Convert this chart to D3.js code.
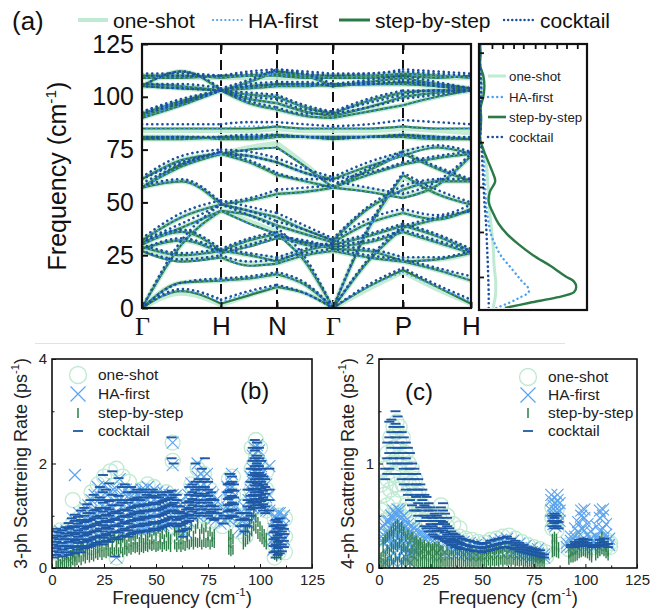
<!DOCTYPE html>
<html><head><meta charset="utf-8">
<script src="https://cdn.jsdelivr.net/npm/d3@7"></script>
<style>body{margin:0;background:#fff}svg{display:block}</style>
</head><body><svg id="c" width="669" height="610"></svg>
<script>
// ---------------- DATA ----------------
const methods = ["one-shot","HA-first","step-by-step","cocktail"];
const kLabels = ["Γ","H","N","Γ","P","H"];
const kTicks = [0, 79, 135, 191, 261, 329];               // path distance of high-symmetry points
const kSamples = [0, 39.5, 79, 107, 135, 163, 191, 226, 261, 295, 329];
const freqTicks = [0, 25, 50, 75, 100, 125];

// bands: frequency (cm-1) at kSamples
const bandsStep = [
[0,8,2,6,10,7,0,10,18,10,2],[0,12,13,14,16,11,0,22,38,42,46],[0,30,46,40,35,22,0,37,63,54,49],
[27,22,24,20,21,25,27,24,22,18,13],[28,32,26,29,33,31,28,27,22,23,26],[29,25,27,32,35,30,29,31,36,31,26],
[30,36,27,25,22,27,30,34,39,34,27],[31,38,46,44,39,35,31,40,45,42,47],[32,43,49,46,43,37,32,47,56,60,60],
[57,67,73,75,76,67,57,55,52,58,72],[57,68,73,69,63,60,57,63,68,71,73],[57,60,49,51,54,55,57,65,73,66,60],
[61,70,73,72,69,64,61,67,72,76,73],[80,80,81,81,82,81,80,81,82,81,80],[81,81,80,80,81,81,81,81,81,80,80],
[85,85,85,85,86,85,85,85,86,85,85],[90,96,103,97,94,91,90,93,96,100,103],[91,97,103,99,97,93,91,95,100,102,103],
[92,98,103,101,100,95,92,98,102,103,103],[105,112,103,107,112,110,105,107,109,106,103],[105,104,103,105,106,106,105,106,106,105,103],
[106,105,103,104,105,105,106,106,107,106,104],[109,109,110,110,110,109,109,109,110,109,110],[110,110,109,110,111,110,110,110,111,110,109]
];
const bandsHA = [
[0,8,3,7,10,7,0,10,17,10,3],[0,12,13,14,16,11,0,22,38,42,46],[0,30,46,40,35,22,0,37,63,54,49],
[27,22,24,20,21,25,27,24,22,18,13],[28,32,26,29,33,31,28,27,22,23,26],[29,25,27,32,35,30,29,31,36,31,26],
[30,36,27,25,22,27,30,34,39,34,27],[31,38,46,44,39,35,31,40,45,42,47],[32,43,49,46,43,37,32,47,56,60,60],
[57,67,73,75,76,67,57,55,52,58,72],[57,68,73,69,63,60,57,63,68,71,73],[57,60,49,51,54,55,57,65,73,66,60],
[61,70,73,72,69,64,61,67,72,76,73],[80,80,81,81,82,81,80,81,82,81,80],[81,81,80,80,81,81,81,81,81,80,80],
[85,85,85,86,86,85,85,85,86,85,85],[90,96,103,97,94,91,90,93,96,100,103],[91,97,103,99,97,93,91,95,100,102,103],
[92,98,103,101,100,95,92,98,102,103,103],[105,112,103,107,112,110,105,107,109,106,103],[105,104,103,105,106,106,105,106,106,105,103],
[106,105,103,104,105,105,106,106,107,106,104],[109,109,110,110,110,109,109,109,110,109,110],[110,110,109,110,111,110,110,110,111,110,109]
];
const bandsOneShot = [
[0,7,1.5,6,10,7,0,9,17,9,2],[0,12,13,14,16,11,0,22,38,42,46],[0,30,46,41,36,22,0,37,62,54,49],
[27,23,24,21,21,25,27,24,22,18,13],[28,32,26,30,34,31,28,27,23,23,26],[29,25,27,32,35,30,29,31,36,31,26],
[30,36,27,25,23,27,30,34,39,34,27],[31,38,46,44,39,35,31,40,45,42,47],[32,43,49,46,43,37,32,47,56,60,60],
[57,67,73,76,78,68,57,56,53,58,72],[57,68,73,69,63,60,57,63,68,71,73],[57,60,49,51,54,55,57,65,74,66,60],
[61,70,73,72,69,64,61,67,74,76,73],[80,80,81,81,82,81,80,81,82,81,80],[81,81,80,80,81,81,81,81,81,80,80],
[84,84,84,84,85,84,84,84,85,84,83],[90,96,103,97,94,91,90,93,96,100,103],[91,97,103,99,97,93,91,95,100,102,103],
[92,98,103,101,100,95,92,98,102,103,103],[105,112,103,107,112,110,105,107,109,106,103],[105,104,103,105,106,106,105,106,106,105,103],
[106,105,103,104,105,105,106,106,107,106,104],[109,109,109,109,109,109,109,109,109,109,109],[110,110,109,110,111,110,110,110,111,110,109]
];
const bandsCocktail = [
[0,9,4,8,11,7,0,11,19,11,4],[0,12,14,15,17,12,0,23,39,43,46],[0,32,49,44,38,24,0,38,64,56,50],
[27,23,25,22,23,26,28,25,23,19,15],[28,33,27,30,34,32,29,28,24,24,27],[30,26,28,33,36,31,30,32,37,32,27],
[31,37,28,26,24,28,31,35,40,35,28],[32,40,49,46,41,37,32,42,47,44,49],[33,45,51,48,45,39,33,48,58,61,61],
[59,68,74,72,69,64,60,57,54,60,73],[61,69,74,70,64,61,61,64,69,72,74],[58,61,50,52,56,57,58,66,74,67,61],
[62,72,75,74,71,66,62,69,74,77,74],[80,81,81,82,82,81,80,81,82,81,80],[81,81,81,81,82,81,81,81,82,81,81],
[87,87,87,88,88,87,86,87,89,88,87],[92,97,103,98,95,92,92,95,99,101,103],[93,98,103,100,99,94,93,97,101,103,103],
[93,99,103,102,101,96,93,99,103,103,103],[105,112,104,108,113,111,106,108,110,107,104],[105,104,103,106,107,107,105,107,107,105,103],
[106,106,104,105,106,106,106,106,108,106,104],[111,111,110,112,113,112,111,111,113,112,111],[110,110,110,111,112,111,110,111,112,111,110]
];

// phonon DOS (arb. units) vs frequency
const dosFreq     = [0,2.5,5,7.5,10,12.5,15,20,25,30,35,40,45,50,55,60,65,70,75,80,85,90,95,100,105,110,115,120,125];
const dosOneShot  = [0.13,0.14,0.15,0.155,0.155,0.155,0.15,0.14,0.135,0.13,0.12,0.11,0.1,0.095,0.09,0.08,0.075,0.06,0.04,0.01,0.015,0.01,0.015,0.02,0.025,0.02,0.01,0.005,0.005];
const dosHA       = [0.16,0.28,0.38,0.46,0.45,0.4,0.36,0.28,0.2,0.15,0.11,0.09,0.075,0.065,0.06,0.055,0.05,0.045,0.035,0.01,0.015,0.01,0.015,0.02,0.025,0.02,0.01,0.005,0.005];
const dosStep     = [0.24,0.47,0.72,0.88,0.9,0.88,0.8,0.66,0.5,0.37,0.26,0.18,0.13,0.09,0.1,0.15,0.12,0.08,0.04,0.01,0.015,0.02,0.015,0.04,0.05,0.04,0.01,0.015,0.01];
const dosCocktail = [0.09,0.09,0.09,0.09,0.088,0.087,0.085,0.082,0.078,0.074,0.07,0.065,0.058,0.05,0.045,0.04,0.035,0.03,0.025,0.01,0.015,0.01,0.015,0.02,0.02,0.015,0.01,0.005,0.005];
const dosSideTicks = [14.7, 36, 57.3, 78.5, 99.7, 120.9];
const dosTopTicks = [0.12,0.22,0.32,0.41,0.52,0.61,0.72,0.81,0.91];

// 3-phonon scattering rates (ps-1): [frequency, [rates at that frequency]]
const ph3OneShot = [
[1,[0.3,0.5,0.65]],[4,[0.4,0.6,0.72]],[7,[0.3,0.55,0.7]],[10,[0.35,0.6,0.85,1.3]],[13,[0.4,0.7,0.95]],
[16,[0.5,0.8,1.1]],[19,[0.4,0.75,1.2,1.45]],[22,[0.5,0.9,1.3,1.6]],[25,[0.6,1.0,1.4,1.75]],[28,[0.5,0.9,1.3,1.85]],
[31,[0.2,0.7,1.1,1.5,1.9]],[34,[0.6,1.0,1.4,1.75]],[37,[0.5,0.9,1.3,1.65]],[40,[0.6,1.0,1.4]],[43,[0.5,0.9,1.25,1.5]],
[46,[0.6,1.0,1.6]],[49,[0.5,0.9,1.3,1.55]],[52,[0.6,1.0,1.3]],[55,[0.7,1.1,1.45]],[58,[0.8,1.2,2.05,2.4]],
[61,[0.6,0.9,1.3]],[64,[0.5,0.8,1.1]],[67,[0.9,1.3,1.6]],[70,[0.9,1.3,1.9]],[73,[1.0,1.4,1.8]],
[76,[0.9,1.2,1.5]],[79,[0.9,1.1]],[82,[0.8,1.0]],[85,[1.0,1.3,1.7]],[87,[0.95,1.4,1.75]],
[90,[0.7,1.0]],[93,[0.6,0.9,1.2]],[96,[1.1,1.5,1.9,2.3]],[98,[1.3,1.7,2.1,2.45]],[100,[1.2,1.6,2.0,2.3]],
[103,[1.1,1.5,1.85]],[107,[0.2,0.45,0.7,0.95]],[109,[0.3,0.55,0.8,1.0]],[112,[0.3,0.6,0.95]]
];
const ph3HA = [
[1,[0.25,0.4,0.55]],[2.5,[0.3,0.48,0.65]],[4,[0.35,0.52,0.7]],[5.5,[0.28,0.45,0.6]],[7,[0.2,0.38,0.55,0.72]],
[8.5,[0.3,0.5,0.68]],[10,[0.35,0.55,0.75,0.95]],[11,[1.78]],[11.5,[0.4,0.6,0.8]],[13,[0.42,0.62,0.85,1.05]],
[14.5,[0.45,0.65,0.9]],[16,[0.5,0.7,0.92,1.15]],[17.5,[0.48,0.68,0.9,1.2]],[19,[0.52,0.75,0.98,1.3]],
[20.5,[0.55,0.8,1.05,1.4]],[22,[0.6,0.85,1.1,1.55]],[23.5,[0.58,0.82,1.08,1.35]],[25,[0.62,0.88,1.15,1.6]],
[26.5,[0.6,0.85,1.12,1.4]],[28,[0.7,0.95,1.2,1.45]],[29.5,[0.65,0.9,1.15,1.5]],[31,[0.2,0.7,0.95,1.25,1.5]],
[32.5,[0.75,1.0,1.3,1.7]],[34,[0.7,0.95,1.2,1.45]],[35.5,[0.72,0.98,1.25,1.5]],[37,[0.7,0.95,1.2,1.4]],
[38.5,[0.75,1.0,1.25,1.5]],[40,[0.72,0.98,1.22,1.45]],[41.5,[0.75,1.0,1.25,1.4]],[43,[0.78,1.02,1.28,1.5]],
[44.5,[0.75,1.0,1.25,1.5]],[46,[0.78,1.05,1.3,1.55]],[47.5,[0.75,1.0,1.25,1.4]],[49,[0.8,1.05,1.3,1.5]],
[50.5,[0.78,1.02,1.25,1.45]],[52,[0.8,1.05,1.3]],[53.5,[0.82,1.08,1.3,1.45]],[55,[0.85,1.1,1.35]],
[56.5,[0.85,1.12,1.4]],[58,[0.9,1.15,1.4,1.97,2.4]],[59.5,[0.88,1.12,1.38]],[61,[0.75,1.0,1.25]],
[62.5,[0.65,0.88,1.05]],[64,[0.7,0.92,1.12]],[65.5,[0.9,1.15,1.4]],[67,[1.0,1.25,1.5,1.62]],[68.5,[1.05,1.3,1.55]],
[70,[1.0,1.25,1.5,1.75,2.0]],[71.5,[1.05,1.3,1.55,1.8]],[73,[1.1,1.35,1.6,1.75]],[74.5,[1.05,1.3,1.55,1.8]],
[76,[1.0,1.25,1.45]],[77.5,[0.95,1.18,1.4]],[79,[0.92,1.1,1.3]],[81,[0.85,1.0]],[83,[0.9,1.1]],
[84.5,[0.95,1.15,1.35,1.55]],[85.5,[1.0,1.25,1.5,1.7]],[86.5,[1.05,1.3,1.55,1.8]],[88,[1.0,1.2,1.4]],
[90,[0.75,0.95]],[91.5,[0.7,0.92]],[93,[0.75,0.95,1.15]],[94.5,[0.85,1.05,1.3]],[95.5,[1.0,1.25,1.5,1.75]],
[96.5,[1.15,1.4,1.65,1.9,2.15]],[97.5,[1.25,1.5,1.75,2.0,2.3]],[98.5,[1.3,1.55,1.8,2.05,2.35]],[99.5,[1.25,1.5,1.75,2.0,2.25]],
[100.5,[1.2,1.45,1.7,1.95]],[101.5,[1.15,1.4,1.65,1.85]],[103,[1.1,1.35,1.6]],[104.5,[1.1,1.4,1.95]],
[106.5,[0.35,0.55,0.75]],[107.5,[0.4,0.6,0.8,0.95]],[108.5,[0.45,0.65,0.85,1.05]],[109.5,[0.5,0.7,0.9,1.05]],
[110.5,[0.5,0.72,0.92]],[111.5,[0.55,0.8,1.0]]
];
const ph3Step = [
[2,[0.05]],[3,[0.05,0.12]],[4,[0.08]],[5,[0.06,0.15]],[6,[0.1]],[7,[0.08,0.2]],[8,[0.12]],[9,[0.1,0.25]],
[10,[0.15,0.3]],[11,[0.12,0.22]],[12,[0.15,0.35]],[13,[0.2,0.3]],[14,[0.15,0.38]],[15,[0.22,0.4]],[16,[0.18,0.3]],
[17,[0.25,0.42]],[18,[0.2,0.35]],[19,[0.25,0.45]],[20,[0.22,0.4]],[21,[0.28,0.48]],[22,[0.25,0.38]],[23,[0.3,0.5]],
[24,[0.25,0.42]],[25,[0.3,0.55]],[26,[0.28,0.45]],[27,[0.32,0.5]],[28,[0.3,0.58]],[29,[0.35,0.45]],[30,[0.3,0.6]],
[31,[0.35,0.5]],[32,[0.3,0.55]],[33,[0.38,0.48]],[34,[0.3,0.58]],[35,[0.35,0.5]],[36,[0.32,0.45]],[37,[0.38,0.6]],
[38,[0.35,0.5]],[39,[0.4,0.62]],[40,[0.38,0.55]],[41,[0.4,0.65]],[42,[0.35,0.5]],[43,[0.4,0.58]],[44,[0.38,0.48]],
[45,[0.42,0.55]],[46,[0.4,0.6]],[47,[0.45,0.68]],[48,[0.42,0.55]],[49,[0.45,0.72]],[50,[0.4,0.6]],[51,[0.42,0.75]],
[52,[0.45,0.58]],[53,[0.4,0.65]],[54,[0.45,0.55]],[55,[0.42,0.68]],[56,[0.45,0.6]],[57,[0.4,0.55]],[59,[0.45,0.7]],
[60,[0.4,0.62]],[61,[0.45,0.72]],[62,[0.4,0.55]],[63,[0.45,0.65]],[64,[0.42,0.78]],[65,[0.48,0.6]],[66,[0.45,0.7]],
[67,[0.5,0.8]],[68,[0.45,0.62]],[69,[0.5,0.75]],[70,[0.48,0.85]],[71,[0.5,0.65]],[72,[0.45,0.75]],[73,[0.5,0.68]],
[74,[0.48,0.78]],[75,[0.5,0.62]],[76,[0.45,0.7]],[77,[0.5,0.6]],[78,[0.48,0.65]],[85,[0.35,0.5,0.62]],
[86,[0.32,0.48,0.65]],[87,[0.35,0.55]],[92,[0.45,0.6]],[93,[0.5,0.7]],[94,[0.55,0.75]],[95,[0.6,0.85]],
[96,[0.7,0.95]],[97,[0.8,1.05,1.2]],[98,[0.75,0.95]],[99,[0.65,0.88]],[100,[0.6,0.8]],[101,[0.55,0.72]],
[102,[0.5,0.65]],[103,[0.45,0.58]],[107,[0.25,0.4]],[108,[0.22,0.45]],[109,[0.28,0.5]],[110,[0.25,0.42]]
];
const ph3Cocktail = [
[0.5,[0.2,0.32,0.45,0.58,0.7]],[2,[0.25,0.38,0.5,0.62,0.75]],[3.5,[0.3,0.42,0.55,0.68]],[5,[0.22,0.35,0.48,0.6,0.72]],
[6.5,[0.3,0.42,0.55,0.66,0.78]],[8,[0.25,0.38,0.5,0.62,0.75,0.86]],[9.5,[0.3,0.42,0.55,0.68,0.8,0.95]],
[11,[0.28,0.4,0.52,0.65,0.78,0.9,1.02]],[12.5,[0.35,0.48,0.6,0.72,0.85,0.98]],[14,[0.3,0.42,0.55,0.68,0.8,0.92,1.1]],
[15.5,[0.38,0.5,0.62,0.75,0.88,1.0,1.15]],[17,[0.4,0.52,0.65,0.78,0.9,1.05,1.22]],[18.5,[0.42,0.55,0.68,0.8,0.92,1.05,1.3]],
[20,[0.45,0.58,0.7,0.82,0.95,1.1,1.4]],[21.5,[0.48,0.6,0.72,0.85,0.98,1.12,1.3]],[23,[0.5,0.62,0.75,0.88,1.0,1.15,1.35,1.55]],
[24.5,[0.45,0.58,0.7,0.82,0.95,1.08,1.25,1.45,1.78]],[26,[0.52,0.65,0.78,0.9,1.02,1.15,1.3,1.5]],
[27.5,[0.5,0.62,0.75,0.88,1.0,1.12,1.28,1.62]],[29,[0.55,0.68,0.8,0.92,1.05,1.2,1.4,1.85]],
[30.5,[0.22,0.58,0.7,0.82,0.95,1.08,1.3]],[32,[0.55,0.68,0.8,0.92,1.05,1.2,1.38,1.72]],
[33.5,[0.6,0.72,0.85,0.98,1.1,1.25,1.55]],[35,[0.62,0.75,0.88,1.0,1.12,1.3,1.6]],[36.5,[0.6,0.72,0.85,0.98,1.1,1.25,1.45]],
[38,[0.65,0.78,0.9,1.02,1.15,1.3,1.55]],[39.5,[0.68,0.8,0.92,1.05,1.18,1.32,1.45]],[41,[0.7,0.82,0.95,1.08,1.2,1.35,1.5]],
[42.5,[0.68,0.8,0.92,1.05,1.18,1.3,1.45]],[44,[0.72,0.85,0.98,1.1,1.22,1.35,1.5]],[45.5,[0.7,0.82,0.95,1.08,1.2,1.4]],
[47,[0.72,0.85,0.98,1.1,1.22,1.35,1.45]],[48.5,[0.75,0.88,1.0,1.12,1.25,1.38,1.5]],[50,[0.72,0.85,0.98,1.1,1.22,1.35,1.45]],
[51.5,[0.75,0.88,1.0,1.12,1.25,1.35]],[53,[0.78,0.9,1.02,1.15,1.28,1.4]],[54.5,[0.8,0.92,1.05,1.18,1.3,1.45]],
[56,[0.82,0.95,1.08,1.2,1.32,1.45]],[57.5,[0.85,0.98,1.1,1.22,1.35,1.48,2.1,2.5]],[58.5,[0.85,0.98,1.1,1.25,1.4,2.0]],
[60,[0.8,0.92,1.05,1.18,1.3,1.4]],[61.5,[0.7,0.82,0.95,1.08,1.18]],[63,[0.6,0.72,0.85,0.98,1.05]],
[64.5,[0.75,0.88,1.0,1.12,1.25]],[66,[0.9,1.02,1.15,1.28,1.4,1.55]],[67.5,[0.95,1.08,1.2,1.32,1.45,1.6]],
[69,[1.0,1.12,1.25,1.38,1.5,1.65,2.0]],[70.5,[1.05,1.18,1.3,1.42,1.55,1.7]],[72,[1.0,1.12,1.25,1.38,1.5,1.65,1.9]],
[73.5,[1.05,1.18,1.3,1.42,1.55,1.7,2.1]],[75,[1.0,1.12,1.25,1.38,1.5,1.65]],[76.5,[0.95,1.08,1.2,1.32,1.45]],
[78,[0.92,1.05,1.18,1.3]],[79.5,[0.95,1.05,1.12]],[82.5,[0.85,1.0]],[84.5,[0.95,1.08,1.2,1.32,1.45,1.6]],
[85.5,[0.98,1.1,1.22,1.35,1.48,1.62,1.8]],[86.5,[1.0,1.12,1.25,1.38,1.5,1.65,1.75]],[87.5,[0.98,1.1,1.22,1.35,1.48,1.6]],
[90.5,[0.8,0.92,1.05]],[92.5,[0.7,0.82,0.95,1.05]],[94,[0.8,0.92,1.05,1.18,1.3,1.5]],[95.5,[1.0,1.12,1.25,1.38,1.5,1.65,1.9]],
[96.5,[1.15,1.28,1.4,1.52,1.65,1.78,1.9,2.05,2.3]],[97.5,[1.2,1.32,1.45,1.58,1.7,1.82,1.95,2.1,2.25,2.45]],
[98.5,[1.25,1.38,1.5,1.62,1.75,1.88,2.0,2.15,2.3,2.4]],[99.5,[1.2,1.32,1.45,1.58,1.7,1.82,1.95,2.1,2.3]],
[100.5,[1.15,1.28,1.4,1.52,1.65,1.78,1.9,2.05]],[101.5,[1.1,1.22,1.35,1.48,1.6,1.75]],[102.5,[1.05,1.18,1.3,1.42,1.55,1.7]],
[104.5,[1.1,1.3,1.5,1.9]],[106.5,[0.3,0.42,0.55,0.68,0.8]],[107.5,[0.2,0.32,0.45,0.58,0.7,0.82,0.92]],
[108.5,[0.25,0.38,0.5,0.62,0.75,0.88]],[109.5,[0.28,0.4,0.52,0.65,0.78,0.95]],[110.5,[0.32,0.45,0.58,0.7,0.82]],
[111.5,[0.4,0.52,0.65,0.75]]
];

// 4-phonon scattering rates (ps-1)
const ph4OneShot = [
[1,[0.05,0.3,0.55,0.8]],[2.5,[0.15,0.45,0.7,0.95]],[4,[0.1,0.35,0.6,0.85,1.1]],[5.5,[0.2,0.5,0.75,1.0,1.25]],
[7,[0.15,0.4,0.65,0.9,1.15,1.35]],[8.5,[0.3,0.55,0.8,1.05,1.3,1.4]],[10,[0.25,0.5,0.75,1.0,1.2,1.35]],
[11.5,[0.3,0.55,0.8,1.05,1.25]],[13,[0.35,0.6,0.85,1.1]],[14.5,[0.3,0.55,0.8,1.0]],[16,[0.35,0.6,0.82,0.95]],
[17.5,[0.3,0.5,0.7,0.85]],[19,[0.35,0.55,0.72]],[21,[0.3,0.45,0.6]],[24,[0.3,0.45,0.55]],[27,[0.25,0.4,0.5]],
[30,[0.3,0.45,0.6]],[33,[0.25,0.4,0.5]],[36,[0.2,0.3,0.42]],[39,[0.2,0.3,0.38]],[42,[0.18,0.28]],[45,[0.17,0.27]],
[48,[0.16,0.25]],[51,[0.16,0.24]],[54,[0.18,0.27]],[57,[0.2,0.28]],[60,[0.22,0.3]],[63,[0.22,0.31]],[66,[0.2,0.28]],
[69,[0.17,0.25]],[72,[0.15,0.22]],[75,[0.14,0.2]],[78,[0.12,0.18]],[81,[0.11,0.15]],[84,[0.38,0.48,0.58]],
[86,[0.36,0.45,0.55]],[92,[0.18,0.22]],[95,[0.2,0.25]],[98,[0.2,0.28]],[101,[0.2,0.27]],[104,[0.2,0.24]],
[107,[0.2,0.27]],[110,[0.2,0.27]],[112,[0.2,0.24]]
];
const ph4HA = [
[1,[0.3,0.38]],[2,[0.25,0.4]],[3,[0.05,0.3,0.42]],[4,[0.2,0.28,0.45]],[5,[0.1,0.32,0.45]],[6,[0.22,0.3,0.4,0.5]],
[7,[0.05,0.25,0.35,0.48,0.55]],[8,[0.22,0.32,0.45,0.52]],[9,[0.1,0.28,0.38,0.5,0.56]],[10,[0.2,0.3,0.42,0.55]],
[11,[0.05,0.25,0.35,0.48]],[12,[0.18,0.28,0.4,0.5]],[13,[0.1,0.2,0.3,0.45]],[14,[0.15,0.25,0.38,0.42]],
[15,[0.05,0.15,0.22,0.35]],[16,[0.12,0.2,0.32,0.4]],[17,[0.18,0.3,0.38]],[18,[0.15,0.25,0.36]],[19,[0.2,0.3]],
[20,[0.15,0.25,0.34]],[22,[0.18,0.28,0.32]],[24,[0.15,0.25,0.3]],[26,[0.18,0.26]],[28,[0.15,0.25,0.3]],[30,[0.18,0.28]],
[32,[0.15,0.24,0.3]],[35,[0.15,0.22,0.28]],[38,[0.14,0.2,0.26]],[41,[0.13,0.19,0.25]],[44,[0.12,0.18,0.24]],
[47,[0.12,0.18,0.22]],[50,[0.12,0.17,0.22]],[53,[0.13,0.19,0.24]],[56,[0.14,0.2,0.26]],[59,[0.15,0.21,0.27]],
[62,[0.15,0.22,0.28]],[65,[0.14,0.2,0.26]],[68,[0.13,0.18,0.23]],[71,[0.12,0.16,0.21]],[74,[0.11,0.15,0.19]],
[77,[0.1,0.14,0.18]],[80,[0.1,0.13]],[83.5,[0.45,0.55,0.65,0.7]],[84.5,[0.42,0.5,0.6]],[85.5,[0.4,0.48,0.55,0.62]],
[86.5,[0.42,0.52,0.65,0.7]],[87.5,[0.45,0.55,0.62]],[91,[0.2,0.24]],[93,[0.2,0.26,0.3]],[95,[0.22,0.3,0.38]],
[96.5,[0.24,0.34,0.44]],[98,[0.26,0.38,0.5,0.55]],[99.5,[0.25,0.36,0.48,0.56]],[101,[0.24,0.32,0.42]],
[102.5,[0.22,0.28,0.35]],[104,[0.2,0.24]],[105.5,[0.22,0.3,0.4]],[107,[0.25,0.35,0.48,0.55]],
[108.5,[0.26,0.38,0.5,0.56]],[110,[0.24,0.32,0.42]],[111.5,[0.22,0.28]]
];
const ph4Step = [
[1,[0.02,0.1]],[2,[0.05,0.15,0.25]],[3,[0.03,0.12,0.28]],[4,[0.06,0.18,0.3]],[5,[0.04,0.15,0.32]],[6,[0.08,0.2,0.35]],
[7,[0.05,0.18,0.3,0.38]],[8,[0.1,0.22,0.4]],[9,[0.06,0.2,0.32,0.42]],[10,[0.1,0.24,0.38]],[11,[0.05,0.18,0.3,0.4]],
[12,[0.08,0.2,0.35]],[13,[0.05,0.16,0.3]],[14,[0.08,0.2,0.32]],[15,[0.04,0.14,0.28]],[16,[0.07,0.18,0.3]],
[17,[0.05,0.14,0.25]],[18,[0.06,0.16,0.26]],[19,[0.04,0.12,0.22]],[20,[0.06,0.15,0.24]],[21,[0.05,0.12,0.2]],
[22,[0.04,0.13,0.22]],[23,[0.05,0.12,0.19]],[24,[0.04,0.11,0.2]],[25,[0.05,0.13,0.18]],[26,[0.04,0.1,0.19]],
[27,[0.05,0.12,0.2]],[28,[0.04,0.11,0.18]],[29,[0.05,0.13,0.2]],[30,[0.04,0.1,0.17]],[31,[0.06,0.16]],[32,[0.04,0.12]],
[33,[0.06,0.17]],[34,[0.05,0.13]],[35,[0.06,0.16]],[36,[0.04,0.12]],[37,[0.06,0.17]],[38,[0.05,0.14]],[39,[0.06,0.16]],
[40,[0.04,0.12]],[41,[0.06,0.15]],[42,[0.05,0.13]],[43,[0.06,0.16]],[44,[0.05,0.12]],[45,[0.06,0.15]],[46,[0.05,0.13]],
[47,[0.06,0.16]],[48,[0.05,0.12]],[49,[0.06,0.15]],[50,[0.05,0.13]],[51,[0.06,0.16]],[52,[0.05,0.14]],[53,[0.07,0.17]],
[54,[0.05,0.13]],[55,[0.07,0.18]],[56,[0.06,0.14]],[57,[0.07,0.18]],[58,[0.06,0.15]],[59,[0.08,0.19]],[60,[0.06,0.15]],
[61,[0.08,0.2]],[62,[0.07,0.16]],[63,[0.08,0.19]],[64,[0.06,0.15]],[65,[0.08,0.18]],[66,[0.06,0.14]],[67,[0.07,0.17]],
[68,[0.06,0.13]],[69,[0.07,0.16]],[70,[0.05,0.12]],[71,[0.06,0.15]],[72,[0.05,0.12]],[73,[0.06,0.14]],[74,[0.05,0.11]],
[75,[0.06,0.13]],[76,[0.05,0.11]],[77,[0.06,0.12]],[78,[0.05,0.1]],[79,[0.06,0.11]],[80,[0.05,0.1]],
[84,[0.15,0.22,0.28]],[85,[0.16,0.24,0.3]],[86,[0.15,0.22,0.28]],[87,[0.14,0.2]],[92,[0.08,0.14]],[93,[0.1,0.16]],
[94,[0.1,0.17]],[95,[0.11,0.18]],[96,[0.12,0.2]],[97,[0.14,0.22]],[98,[0.15,0.24]],[99,[0.16,0.25]],[100,[0.15,0.23]],
[101,[0.14,0.21]],[102,[0.12,0.18]],[103,[0.1,0.15]],[105,[0.12,0.18]],[106,[0.14,0.22]],[107,[0.16,0.26]],
[108,[0.18,0.3]],[109,[0.16,0.25]],[110,[0.14,0.2]],[111,[0.12,0.16]]
];
const ph4Cocktail = [
[3,[0.85,0.95]],[4,[0.9,1.05,1.2]],[5,[0.95,1.1,1.25,1.4]],[6,[1.0,1.15,1.3,1.42]],[7,[1.05,1.2,1.35]],
[8,[0.9,1.1,1.25,1.38,1.5]],[9,[1.0,1.15,1.3,1.45]],[10,[0.9,1.05,1.2,1.35]],[11,[0.85,1.0,1.15,1.3]],[12,[0.8,0.95,1.1,1.25]],
[13,[0.75,0.9,1.05,1.2]],[14,[0.7,0.85,1.0,1.15]],[15,[0.65,0.8,0.95,1.1]],[16,[0.6,0.75,0.9,1.0]],[17,[0.55,0.7,0.85,0.95]],
[18,[0.55,0.68,0.8,0.9]],[19,[0.5,0.62,0.75,0.85]],[20,[0.45,0.58,0.7,0.8]],[21,[0.45,0.55,0.65,0.75]],[22,[0.4,0.5,0.6,0.7]],
[23,[0.38,0.48,0.58,0.68]],[24,[0.35,0.45,0.55,0.62]],[25,[0.35,0.42,0.5,0.58]],[26,[0.32,0.4,0.48,0.55]],[27,[0.3,0.38,0.45,0.52]],
[28,[0.3,0.36,0.42,0.5]],[29,[0.28,0.35,0.42,0.48]],[30,[0.3,0.38,0.45,0.58]],[31,[0.28,0.36,0.44,0.55,0.62]],[32,[0.26,0.34,0.42,0.52]],
[33,[0.25,0.32,0.4,0.48]],[34,[0.24,0.3,0.38]],[35,[0.22,0.28,0.35]],[36,[0.22,0.27,0.33]],[37,[0.2,0.26,0.32]],
[38,[0.2,0.25,0.3]],[39,[0.19,0.24,0.3]],[40,[0.18,0.23,0.28]],[42,[0.18,0.22,0.27]],[44,[0.17,0.21,0.26]],
[46,[0.16,0.2,0.25]],[48,[0.16,0.2,0.24]],[50,[0.15,0.19,0.23]],[52,[0.16,0.2,0.24]],[54,[0.17,0.21,0.26]],
[56,[0.18,0.22,0.27]],[58,[0.19,0.23,0.28]],[60,[0.2,0.24,0.29]],[62,[0.2,0.25,0.3]],[64,[0.19,0.24,0.28]],
[66,[0.18,0.22,0.26]],[68,[0.16,0.2,0.24]],[70,[0.15,0.18,0.22]],[72,[0.14,0.17,0.2]],[74,[0.13,0.16,0.19]],
[76,[0.12,0.15,0.18]],[78,[0.11,0.14,0.17]],[80,[0.1,0.13]],[84,[0.4,0.45,0.5]],[85,[0.38,0.43,0.48,0.52]],
[86,[0.4,0.45,0.5]],[87,[0.38,0.44]],[93,[0.2,0.22]],[95,[0.2,0.23,0.25]],[97,[0.21,0.24,0.27]],
[99,[0.22,0.25,0.28]],[101,[0.21,0.24,0.27]],[103,[0.2,0.22]],[105,[0.2,0.22]],[107,[0.21,0.24,0.27]],
[109,[0.22,0.25,0.28]],[111,[0.2,0.23]]
];

// ---------------- DRAWING ----------------
const SANS = "'Liberation Sans', Arial, sans-serif";
const C = {one:"#bfead3", ha:"#4d9ff0", step:"#2a7a46", ck:"#1c4f9e"};
const svg = d3.select("#c").style("font-family", SANS);
const defs = svg.append("defs");
function clip(id, x, y, w, h){ defs.append("clipPath").attr("id", id).append("rect").attr("x",x).attr("y",y).attr("width",w).attr("height",h); }

function supTitle(g, base, fs){
  g.append("tspan").text(base);
  g.append("tspan").attr("dy", -fs*0.42).attr("font-size", fs*0.62).text("-1");
  g.append("tspan").attr("dy", fs*0.42).text(")");
}

// ---- panel (a) main ----
const xK = d3.scaleLinear().domain([0, 329]).range([142, 471]);
const yF = d3.scaleLinear().domain([0, 125]).range([308, 44]);
clip("cpA", 142, 44, 329, 264);
const gA = svg.append("g");
const plotA = gA.append("g").attr("clip-path", "url(#cpA)");

plotA.selectAll("line.hs").data(kTicks.slice(1, -1)).enter().append("line")
  .attr("x1", d=>xK(d)).attr("x2", d=>xK(d)).attr("y1", yF(125)).attr("y2", yF(0))
  .attr("stroke", "#111").attr("stroke-width", 2).attr("stroke-dasharray", "10,6");

const bandLine = d3.line().x(d=>xK(d[0])).y(d=>yF(d[1])).curve(d3.curveMonotoneX);
function drawBands(bands, styleFn){
  const g = plotA.append("g");
  bands.forEach(b => {
    for (let s = 0; s < 5; s++){
      const pts = [0,1,2].map(j => [kSamples[2*s+j], b[2*s+j]]);
      styleFn(g.append("path").attr("d", bandLine(pts)).attr("fill", "none"));
    }
  });
}
drawBands(bandsOneShot, p => p.attr("stroke", C.one).attr("stroke-width", 5).attr("opacity", 0.9));
drawBands(bandsStep, p => p.attr("stroke", C.step).attr("stroke-width", 2.2));
drawBands(bandsHA, p => p.attr("stroke", C.ha).attr("stroke-width", 2).attr("stroke-linecap","round").attr("stroke-dasharray", "0.1,4.6"));
drawBands(bandsCocktail, p => p.attr("stroke", C.ck).attr("stroke-width", 2.6).attr("stroke-linecap","round").attr("stroke-dasharray", "0.1,5"));

gA.append("rect").attr("x",142).attr("y",44).attr("width",329).attr("height",264).attr("fill","none").attr("stroke","#111").attr("stroke-width",2.2);
const axL = gA.append("g").attr("transform","translate(142,0)")
  .call(d3.axisLeft(yF).tickValues(freqTicks).tickSizeInner(-6).tickSizeOuter(0).tickPadding(8));
axL.select(".domain").remove();
axL.selectAll("line").attr("stroke","#111").attr("stroke-width",2);
axL.selectAll("text").attr("font-size",25).attr("font-family",SANS).attr("fill","#111");
const axB = gA.append("g").attr("transform","translate(0,308)")
  .call(d3.axisBottom(xK).tickValues(kTicks).tickFormat((d,i)=>kLabels[i]).tickSizeInner(-6).tickSizeOuter(0).tickPadding(9));
axB.select(".domain").remove();
axB.selectAll("line").attr("stroke","#111").attr("stroke-width",2);
axB.selectAll("text").attr("font-size",26).attr("fill","#111")
  .attr("font-family", "'Liberation Serif', 'DejaVu Serif', serif")
  .filter((d,i)=>kLabels[i] !== "Γ").attr("font-family", SANS);
const axT = gA.append("g").attr("transform","translate(0,44)")
  .call(d3.axisTop(xK).tickValues(kTicks.slice(1,-1)).tickSizeInner(-6).tickSizeOuter(0).tickFormat(""));
axT.select(".domain").remove();
axT.selectAll("line").attr("stroke","#111").attr("stroke-width",2);

const tA = gA.append("text").attr("transform","translate(66,176) rotate(-90)").attr("text-anchor","middle")
  .attr("font-size",25).attr("fill","#111");
supTitle(tA, "Frequency (cm", 25);

// ---- DOS panel ----
const xD = d3.scaleLinear().domain([0, 1]).range([479, 587]);
clip("cpD", 479, 44, 108, 264);
const gD = svg.append("g");
const plotD = gD.append("g").attr("clip-path","url(#cpD)");
const dosLine = arr => d3.line().x((d,i)=>xD(arr[i])).y(d=>yF(d)).curve(d3.curveCatmullRom.alpha(0.5))(dosFreq);
plotD.append("path").attr("d", dosLine(dosOneShot)).attr("fill","none").attr("stroke",C.one).attr("stroke-width",3);
plotD.append("path").attr("d", dosLine(dosHA)).attr("fill","none").attr("stroke",C.ha).attr("stroke-width",2.4).attr("stroke-linecap","round").attr("stroke-dasharray","0.1,4.5");
plotD.append("path").attr("d", dosLine(dosStep)).attr("fill","none").attr("stroke",C.step).attr("stroke-width",2.4);
plotD.append("path").attr("d", dosLine(dosCocktail)).attr("fill","none").attr("stroke",C.ck).attr("stroke-width",2.6).attr("stroke-linecap","round").attr("stroke-dasharray","0.1,4.5");
gD.append("rect").attr("x",479).attr("y",44).attr("width",108).attr("height",266).attr("fill","none").attr("stroke","#111").attr("stroke-width",2.2);
const dL = gD.append("g").attr("transform","translate(479,0)").call(d3.axisLeft(yF).tickValues(dosSideTicks).tickSizeInner(-5).tickSizeOuter(0).tickFormat(""));
dL.select(".domain").remove(); dL.selectAll("line").attr("stroke","#111").attr("stroke-width",1.8);
const dT = gD.append("g").attr("transform","translate(0,44)").call(d3.axisTop(xD).tickValues(dosTopTicks).tickSizeInner(-5).tickSizeOuter(0).tickFormat(""));
dT.select(".domain").remove(); dT.selectAll("line").attr("stroke","#111").attr("stroke-width",1.8);
const dosLeg = [
  {c:C.one, w:3, dash:null}, {c:C.ha, w:2.4, dash:"0.1,4.5"}, {c:C.step, w:2.6, dash:null}, {c:C.ck, w:2.6, dash:"0.1,4.5"}];
const dosLegY = [76, 97, 117, 137];
dosLeg.forEach((s,i)=>{
  const l = gD.append("line").attr("x1",488).attr("x2",506).attr("y1",dosLegY[i]).attr("y2",dosLegY[i])
    .attr("stroke",s.c).attr("stroke-width",s.w);
  if (s.dash) l.attr("stroke-dasharray", s.dash).attr("stroke-linecap","round");
  gD.append("text").attr("x",509).attr("y",dosLegY[i]).attr("dy","0.35em").attr("font-size",13.3).attr("fill","#222").text(methods[i]);
});

// ---- top legend ----
svg.append("text").attr("x",12).attr("y",21).attr("dy","0.35em").attr("font-size",26).attr("fill","#111").text("(a)");
const topLeg = [
  {x1:78, x2:108, tx:113, c:C.one, w:4, dash:null},
  {x1:213, x2:242, tx:248, c:C.ha, w:2.2, dash:"0.1,4"},
  {x1:339, x2:370, tx:375, c:C.step, w:3, dash:null},
  {x1:504, x2:534, tx:540, c:C.ck, w:2.4, dash:"0.1,4"}];
topLeg.forEach((s,i)=>{
  const l = svg.append("line").attr("x1",s.x1).attr("x2",s.x2).attr("y1",20).attr("y2",20).attr("stroke",s.c).attr("stroke-width",s.w);
  if (s.dash) l.attr("stroke-dasharray", s.dash).attr("stroke-linecap","round");
  svg.append("text").attr("x",s.tx).attr("y",21).attr("dy","0.35em").attr("font-size",21).attr("fill","#111").text(methods[i]);
});

svg.append("line").attr("x1",35).attr("x2",565).attr("y1",343.5).attr("y2",343.5).attr("stroke","#e2e2e2").attr("stroke-width",1);

// ---- scatter panels ----
function flat(groups){ const out=[]; groups.forEach(g=>g[1].forEach(r=>out.push([g[0], r]))); return out; }

function scatterPanel(opt){
  const x = d3.scaleLinear().domain([0,125]).range([opt.x0, opt.x1]);
  const y = d3.scaleLinear().domain([0, opt.yMax]).range([568, 359]);
  const g = svg.append("g");
  clip(opt.id, opt.x0, 359, opt.x1-opt.x0, 209);
  const p = g.append("g").attr("clip-path", `url(#${opt.id})`);
  p.selectAll("circle").data(flat(opt.one)).enter().append("circle")
    .attr("cx", d=>x(d[0])).attr("cy", d=>y(d[1])).attr("r", 7.5)
    .attr("fill","none").attr("stroke", C.one).attr("stroke-width", 1.3);
  p.selectAll("path.x").data(flat(opt.ha)).enter().append("path")
    .attr("transform", d=>`translate(${x(d[0])},${y(d[1])})`).attr("d","M-6,-6L6,6M-6,6L6,-6")
    .attr("stroke","#5ba3ee").attr("stroke-width",1.1).attr("fill","none");
  p.selectAll("line.s").data(flat(opt.step)).enter().append("line")
    .attr("x1", d=>x(d[0])).attr("x2", d=>x(d[0])).attr("y1", d=>y(d[1])-5).attr("y2", d=>y(d[1])+5)
    .attr("stroke","#2e7c48").attr("stroke-width",1.4);
  p.selectAll("line.k").data(flat(opt.ck)).enter().append("line")
    .attr("x1", d=>x(d[0])-5).attr("x2", d=>x(d[0])+5).attr("y1", d=>y(d[1])).attr("y2", d=>y(d[1]))
    .attr("stroke","#1f58a4").attr("stroke-width",1.9);
  g.append("rect").attr("x",opt.x0).attr("y",359).attr("width",opt.x1-opt.x0).attr("height",209)
    .attr("fill","none").attr("stroke","#111").attr("stroke-width",1.6);
  const ax = g.append("g").attr("transform","translate(0,568)")
    .call(d3.axisBottom(x).tickValues([0,25,50,75,100,125]).tickFormat(d3.format("d")).tickSizeInner(-4).tickSizeOuter(0).tickPadding(6));
  ax.select(".domain").remove(); ax.selectAll("line").attr("stroke","#111");
  ax.selectAll("text").attr("font-size",15).attr("fill","#222").attr("font-family",SANS);
  const axm = g.append("g").attr("transform","translate(0,568)")
    .call(d3.axisBottom(x).tickValues([12.5,37.5,62.5,87.5,112.5]).tickSizeInner(-2.5).tickSizeOuter(0).tickFormat(""));
  axm.select(".domain").remove(); axm.selectAll("line").attr("stroke","#111");
  const ay = g.append("g").attr("transform",`translate(${opt.x0},0)`)
    .call(d3.axisLeft(y).tickValues(opt.yMajor).tickFormat(d3.format("d")).tickSizeInner(-4).tickSizeOuter(0).tickPadding(5));
  ay.select(".domain").remove(); ay.selectAll("line").attr("stroke","#111");
  ay.selectAll("text").attr("font-size",15).attr("fill","#222").attr("font-family",SANS);
  const aym = g.append("g").attr("transform",`translate(${opt.x0},0)`)
    .call(d3.axisLeft(y).tickValues(opt.yMinor).tickSizeInner(-2.5).tickSizeOuter(0).tickFormat(""));
  aym.select(".domain").remove(); aym.selectAll("line").attr("stroke","#111");
  const tx = g.append("text").attr("x",(opt.x0+opt.x1)/2).attr("y",604).attr("text-anchor","middle").attr("font-size",18.5).attr("fill","#222");
  supTitle(tx, "Frequency (cm", 18.5);
  const ty = g.append("text").attr("transform",`translate(${opt.x0-25},463.5) rotate(-90)`).attr("text-anchor","middle").attr("font-size",18).attr("fill","#222");
  supTitle(ty, opt.yTitle, 18);
  g.append("text").attr("x",opt.labX).attr("y",opt.labY).attr("dy","0.35em").attr("font-size",24).attr("fill","#111").text(opt.label);
  const lx = opt.legX, tx2 = opt.legX + 20;
  opt.legY.forEach((yy,i)=>{
    if (i===0) g.append("circle").attr("cx",lx).attr("cy",yy).attr("r",8.5).attr("fill","none").attr("stroke",C.one).attr("stroke-width",1.4);
    if (i===1) g.append("path").attr("transform",`translate(${lx},${yy})`).attr("d","M-7.5,-7.5L7.5,7.5M-7.5,7.5L7.5,-7.5").attr("stroke","#5ba3ee").attr("stroke-width",1.2);
    if (i===2) g.append("line").attr("x1",lx).attr("x2",lx).attr("y1",yy-5).attr("y2",yy+5).attr("stroke","#2e7c48").attr("stroke-width",1.5);
    if (i===3) g.append("line").attr("x1",lx-5).attr("x2",lx+5).attr("y1",yy).attr("y2",yy).attr("stroke","#1f58a4").attr("stroke-width",1.8);
    g.append("text").attr("x",tx2).attr("y",yy).attr("dy","0.35em").attr("font-size",15.5).attr("fill","#222").text(methods[i]);
  });
}

scatterPanel({id:"cpB", x0:52, x1:312, yMax:4, yMajor:[0,2,4], yMinor:[1,3],
  one:ph3OneShot, ha:ph3HA, step:ph3Step, ck:ph3Cocktail,
  yTitle:"3-ph Scattreing Rate (ps", label:"(b)", labX:240, labY:391, legX:78, legY:[375,394,413,431]});
scatterPanel({id:"cpC", x0:379, x1:637, yMax:2, yMajor:[0,1,2], yMinor:[0.5,1.5],
  one:ph4OneShot, ha:ph4HA, step:ph4Step, ck:ph4Cocktail,
  yTitle:"4-ph Scattreing Rate (ps", label:"(c)", labX:405, labY:392, legX:528, legY:[377,395,413,431]});
</script></body></html>
